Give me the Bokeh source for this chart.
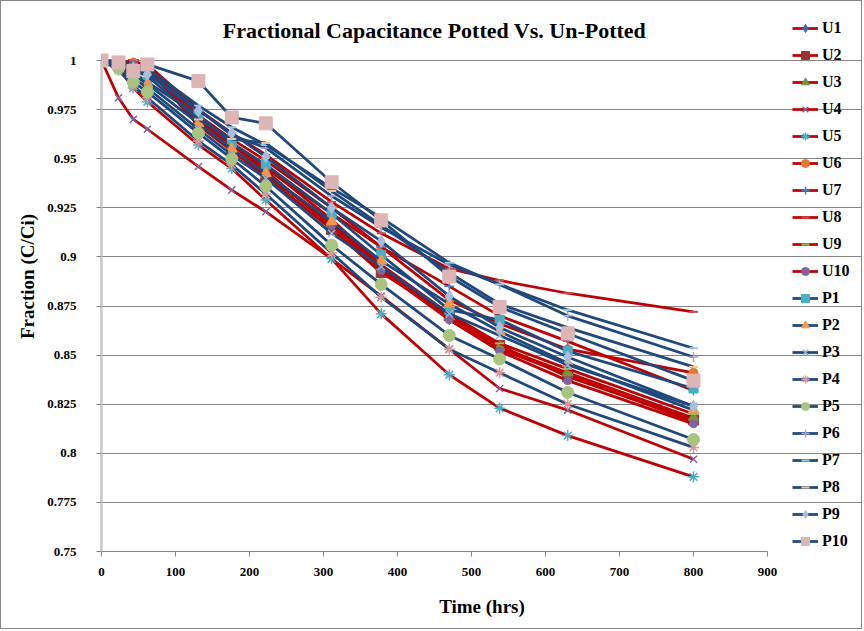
from bokeh.plotting import figure
from bokeh.models import Range1d, FixedTicker, Legend, LegendItem, Label
from bokeh.embed import file_html
from bokeh.resources import INLINE

# ---------------- data ----------------
hours = [0, 23, 43, 62, 131, 176, 222, 311, 378, 470, 538, 630, 800]

U1 = [1, 0.999, 0.998, 0.997, 0.970, 0.957, 0.944, 0.915, 0.894, 0.868, 0.853, 0.840, 0.816]
U2 = [1, 0.999, 0.998, 0.996, 0.967, 0.954, 0.941, 0.914, 0.892, 0.870, 0.855, 0.839, 0.817]
U3 = [1, 0.999, 0.998, 0.997, 0.968, 0.955, 0.942, 0.917, 0.895, 0.8697, 0.854, 0.841, 0.818]
U4 = [1, 0.981, 0.970, 0.965, 0.946, 0.934, 0.923, 0.899, 0.880, 0.853, 0.833, 0.822, 0.797]
U5 = [1, 0.996, 0.986, 0.979, 0.957, 0.945, 0.929, 0.899, 0.871, 0.840, 0.823, 0.809, 0.788]
U6 = [1, 0.999, 0.999, 0.998, 0.972, 0.960, 0.949, 0.925, 0.905, 0.878, 0.866, 0.853, 0.841]
U7 = [1, 0.999, 0.998, 0.996, 0.969, 0.957, 0.945, 0.922, 0.905, 0.885, 0.870, 0.857, 0.832]
U8 = [1, 1.0, 0.999, 0.998, 0.975, 0.963, 0.952, 0.928, 0.912, 0.894, 0.888, 0.8815, 0.872]
U9 = [1, 0.999, 0.998, 0.997, 0.969, 0.957, 0.946, 0.919, 0.896, 0.871, 0.856, 0.843, 0.820]
U10 = [1, 0.999, 0.998, 0.996, 0.967, 0.955, 0.943, 0.916, 0.893, 0.868, 0.852, 0.837, 0.815]
P1 = [1, 0.998, 0.994, 0.989, 0.972, 0.958, 0.947, 0.922, 0.901, 0.873, 0.868, 0.852, 0.833]
P2 = [1, 0.997, 0.993, 0.988, 0.968, 0.955, 0.9425, 0.918, 0.898, 0.876, 0.862, 0.846, 0.822]
P3 = [1, 0.997, 0.991, 0.986, 0.965, 0.952, 0.940, 0.912, 0.895, 0.871, 0.860, 0.845, 0.824]
P4 = [1, 0.995, 0.987, 0.981, 0.959, 0.947, 0.932, 0.902, 0.8795, 0.853, 0.841, 0.825, 0.803]
P5 = [1, 0.996, 0.989, 0.984, 0.963, 0.950, 0.936, 0.906, 0.886, 0.860, 0.848, 0.831, 0.807]
P6 = [1, 0.999, 0.997, 0.994, 0.975, 0.962, 0.9555, 0.931, 0.915, 0.896, 0.886, 0.870, 0.849]
P7 = [1, 0.999, 0.998, 0.996, 0.977, 0.966, 0.957, 0.935, 0.920, 0.897, 0.886, 0.873, 0.8535]
P8 = [1, 0.998, 0.995, 0.992, 0.970, 0.960, 0.958, 0.9335, 0.916, 0.892, 0.876, 0.864, 0.844]
P9 = [1, 0.998, 0.996, 0.993, 0.9745, 0.963, 0.951, 0.925, 0.908, 0.880, 0.864, 0.849, 0.824]
P10 = [1, 0.999, 0.9946, 0.998, 0.9895, 0.971, 0.968, 0.938, 0.9186, 0.890, 0.8745, 0.861, 0.837]

series_names = ["U1", "U2", "U3", "U4", "U5", "U6", "U7", "U8", "U9", "U10",
                "P1", "P2", "P3", "P4", "P5", "P6", "P7", "P8", "P9", "P10"]
series_values = [U1, U2, U3, U4, U5, U6, U7, U8, U9, U10,
                 P1, P2, P3, P4, P5, P6, P7, P8, P9, P10]

x_ticks = [0, 100, 200, 300, 400, 500, 600, 700, 800, 900]
x_tick_labels = ["0", "100", "200", "300", "400", "500", "600", "700", "800", "900"]
y_ticks = [0.75, 0.775, 0.8, 0.825, 0.85, 0.875, 0.9, 0.925, 0.95, 0.975, 1.0]
y_tick_labels = ["0.75", "0.775", "0.8", "0.825", "0.85", "0.875", "0.9",
                 "0.925", "0.95", "0.975", "1"]
title_text = "Fractional Capacitance Potted Vs. Un-Potted"

# ---------------- styles ----------------
markers = ["diamond", "square", "triangle", "x", "asterisk", "circle", "cross", "dash", "dash", "circle",
           "square", "triangle", "x", "asterisk", "circle", "cross", "dash", "dash", "diamond", "square"]
marker_colors = ["#3C6AAE", "#953735", "#77933C", "#8064A2", "#4BACC6", "#E07A30", "#4F81BD",
                 "#C0504D", "#9BBB59", "#7F63A1",
                 "#4BACC6", "#F79646", "#95B3D7", "#D99694", "#A9C47F", "#B3A2C7", "#93CDDD",
                 "#FAC090", "#A9BEDD", "#DDB5B5"]
marker_sizes = [10, 10, 11, 10, 11, 9, 10, 9, 9, 8,
                9, 11, 10, 11, 12, 10, 9, 9, 12, 13]
RED = "#C00000"
BLUE = "#1F497D"
FONT = "Liberation Serif"

# layout in canvas pixels (canvas is 862x629 inside a 1px border)
CW, CH = 862, 629
F_LEFT, F_RIGHT, F_TOP, F_BOTTOM = 100, 861, 0, 550
PX_X = 666.0 / 900.0          # pixels per hour in the plot area
PX_Y = 491.0 / 0.25           # pixels per fraction unit
x_end = (F_RIGHT - F_LEFT) / PX_X
y_end = 0.75 + (F_BOTTOM - F_TOP) / PX_Y

p = figure(width=CW, height=CH, output_backend="svg", toolbar_location=None,
           x_range=Range1d(0, x_end), y_range=Range1d(0.75, y_end),
           min_border_left=F_LEFT, min_border_right=CW - F_RIGHT,
           min_border_top=F_TOP, min_border_bottom=CH - F_BOTTOM)
p.styles = {"border": "1px solid #868686"}
p.outline_line_color = None
p.background_fill_color = "white"
p.border_fill_color = "white"

p.xgrid.grid_line_color = None
p.ygrid.grid_line_color = "#868686"
p.ygrid.grid_line_width = 1
p.ygrid.ticker = FixedTicker(ticks=y_ticks)
p.ygrid.bounds = (0, 900)

p.xaxis.ticker = FixedTicker(ticks=x_ticks)
p.xaxis.major_label_overrides = {t: l for t, l in zip(x_ticks, x_tick_labels)}
p.xaxis.bounds = (0, 900)
p.yaxis.ticker = FixedTicker(ticks=y_ticks)
p.yaxis.major_label_overrides = {t: l for t, l in zip(y_ticks, y_tick_labels)}
p.yaxis.bounds = (0.75, 1.0)

for ax in (p.xaxis[0], p.yaxis[0]):
    ax.axis_line_color = "#868686"
    ax.axis_line_width = 1
    ax.major_tick_line_color = "#868686"
    ax.major_tick_out = 5
    ax.major_tick_in = 0
    ax.minor_tick_line_color = None
    ax.major_label_text_font = FONT
    ax.major_label_text_font_style = "bold"
    ax.major_label_text_font_size = "13px"
    ax.major_label_text_color = "black"
    ax.axis_label_text_font = FONT
    ax.axis_label_text_font_style = "bold"
    ax.axis_label_text_font_size = "19px"
    ax.axis_label_text_color = "black"

p.yaxis.axis_line_color = "#C8C8C8"
p.yaxis.axis_line_width = 2.5
p.xaxis.axis_label = "Time (hrs)"
p.yaxis.axis_label = "Fraction (C/Ci)"
p.xaxis.major_label_standoff = 11
p.yaxis.major_label_standoff = 20
p.xaxis.axis_label_standoff = 17
p.yaxis.axis_label_standoff = 6

# title as a label over the plot area
title_y = 0.75 + (F_BOTTOM - 29) / PX_Y
p.add_layout(Label(x=450, y=title_y, text=title_text, text_align="center",
                   text_baseline="middle", text_font=FONT, text_font_style="bold",
                   text_font_size="22px", text_color="black"))

items = []
for i, (name, vals) in enumerate(zip(series_names, series_values)):
    lc = RED if name.startswith("U") else BLUE
    lr = p.line(hours, vals, line_color=lc, line_width=2.75)
    mk = markers[i]
    if mk in ("x", "asterisk", "cross", "dash"):
        sr = p.scatter(hours, vals, marker=mk, size=marker_sizes[i],
                       line_color=marker_colors[i], line_width=2 if mk == "dash" else 1.5,
                       fill_color=marker_colors[i])
    else:
        sr = p.scatter(hours, vals, marker=mk, size=marker_sizes[i],
                       line_color=marker_colors[i], fill_color=marker_colors[i])
    items.append(LegendItem(label=name, renderers=[lr, sr]))

legend = Legend(items=items, location=(691, 0))
legend.background_fill_alpha = 0
legend.border_line_color = None
legend.padding = 0
legend.margin = 0
legend.spacing = 7
legend.glyph_height = 20
legend.label_height = 20
legend.glyph_width = 26
legend.label_standoff = 4
legend.label_text_font = FONT
legend.label_text_font_style = "bold"
legend.label_text_font_size = "16px"
legend.label_text_color = "black"
p.add_layout(legend)

open("out.html", "w").write(file_html(p, INLINE))
